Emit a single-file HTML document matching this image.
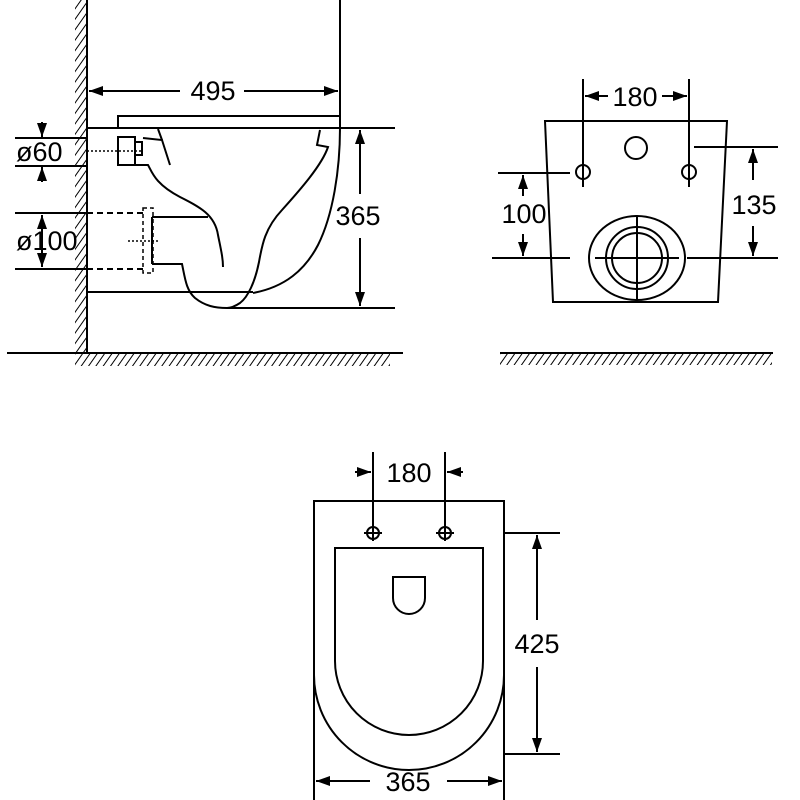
<!DOCTYPE html>
<html><head><style>html,body{margin:0;padding:0;background:#fff}svg{display:block}</style></head><body>
<svg width="800" height="800" viewBox="0 0 800 800" xmlns="http://www.w3.org/2000/svg" font-family="Liberation Sans, sans-serif">
<defs>
<pattern id="hv" width="6" height="6" patternUnits="userSpaceOnUse" patternTransform="rotate(35)"><line x1="0" y1="0" x2="0" y2="6" stroke="#000" stroke-width="2"/></pattern>
<marker id="a" viewBox="0 0 14 10" refX="14" refY="5" markerWidth="14" markerHeight="10" markerUnits="userSpaceOnUse" orient="auto-start-reverse"><path d="M0,0 L14,5 L0,10 Z" fill="#000"/></marker>
</defs>
<g stroke="#000" stroke-width="2" fill="none">
<rect x="75" y="0" width="12" height="353" fill="url(#hv)" stroke="none"/>
<line x1="87" y1="0" x2="87" y2="353"/>
<line x1="7" y1="353" x2="403" y2="353"/>
<rect x="75" y="354" width="315" height="12" fill="url(#hv)" stroke="none"/>
<line x1="340" y1="0" x2="340" y2="128"/>
<line x1="89" y1="91" x2="180" y2="91" marker-start="url(#a)"/>
<line x1="244" y1="91" x2="338" y2="91" marker-end="url(#a)"/>
<path d="M118,128 V116 H340 V128"/>
<line x1="87" y1="128" x2="395" y2="128"/>
<rect x="118" y="137" width="17" height="28"/>
<rect x="135" y="142" width="7" height="13"/>
<line x1="87" y1="151" x2="142" y2="151" stroke-dasharray="2,2" stroke-width="1.5"/>
<path d="M143,138 L162,140 L170,165"/>
<line x1="158" y1="129" x2="162" y2="140"/>
<path d="M135,165 L148,165 C152,172 155,184 180,197 C200,207 215,215 218,235 C221,250 223,258 223,267"/>
<line x1="152" y1="217" x2="208" y2="217"/>
<line x1="152" y1="217" x2="152" y2="264"/>
<path d="M152,264 L182,264 C185,278 186,290 195,298 C205,306 215,308 227,308 L395,308"/>
<rect x="143" y="208" width="10" height="65" stroke-dasharray="4,3" stroke-width="1.5"/>
<line x1="87" y1="213" x2="143" y2="213" stroke-dasharray="6,4"/>
<line x1="87" y1="269" x2="143" y2="269" stroke-dasharray="6,4"/>
<line x1="128" y1="241" x2="160" y2="241" stroke-dasharray="2,2" stroke-width="1.5"/>
<path d="M320,130 L317,145 L328,147 C322,165 300,190 282,210 C265,228 262,245 259,262 C255,282 248,297 240,303 C234,307 230,308 227,308"/>
<path d="M340,128 C340,170 333,215 318,245 C305,270 285,287 253,293"/>
<line x1="87" y1="292" x2="253" y2="292"/>
<line x1="360" y1="130" x2="360" y2="194" marker-start="url(#a)"/>
<line x1="360" y1="238" x2="360" y2="306" marker-end="url(#a)"/>
<line x1="15" y1="138" x2="87" y2="138"/>
<line x1="15" y1="166" x2="87" y2="166"/>
<line x1="42" y1="122" x2="42" y2="137" marker-end="url(#a)"/>
<line x1="42" y1="182" x2="42" y2="167" marker-end="url(#a)"/>
<line x1="15" y1="213" x2="87" y2="213"/>
<line x1="15" y1="269" x2="87" y2="269"/>
<line x1="42" y1="241" x2="42" y2="215" marker-end="url(#a)"/>
<line x1="42" y1="241" x2="42" y2="267" marker-end="url(#a)"/>

<path d="M545,121 H727 L718,302 H553 Z"/>
<line x1="583" y1="79" x2="583" y2="187"/>
<line x1="689" y1="79" x2="689" y2="187"/>
<line x1="585" y1="96" x2="608" y2="96" marker-start="url(#a)"/>
<line x1="662" y1="96" x2="687" y2="96" marker-end="url(#a)"/>
<circle cx="583" cy="172" r="7"/>
<circle cx="689" cy="172" r="7"/>
<circle cx="636" cy="148" r="11"/>
<ellipse cx="637" cy="258" rx="48" ry="42"/>
<circle cx="637" cy="258" r="31"/>
<circle cx="637" cy="258" r="25"/>
<line x1="637" y1="216" x2="637" y2="300"/>
<line x1="595" y1="258" x2="679" y2="258"/>
<line x1="498" y1="173" x2="570" y2="173"/>
<line x1="492" y1="258" x2="570" y2="258"/>
<line x1="687" y1="258" x2="778" y2="258"/>
<line x1="694" y1="147" x2="778" y2="147"/>
<line x1="523" y1="196" x2="523" y2="175" marker-end="url(#a)"/>
<line x1="523" y1="234" x2="523" y2="256" marker-end="url(#a)"/>
<line x1="753" y1="180" x2="753" y2="149" marker-end="url(#a)"/>
<line x1="753" y1="226" x2="753" y2="256" marker-end="url(#a)"/>
<line x1="500" y1="353" x2="773" y2="353"/>
<rect x="500" y="354" width="272" height="11" fill="url(#hv)" stroke="none"/>

<path d="M314,800 V501 H504 V800"/>
<line x1="373" y1="452" x2="373" y2="541"/>
<line x1="445" y1="452" x2="445" y2="541"/>
<line x1="355" y1="472" x2="371" y2="472" marker-end="url(#a)"/>
<line x1="463" y1="472" x2="447" y2="472" marker-end="url(#a)"/>
<circle cx="373" cy="533" r="6"/><line x1="364" y1="533" x2="382" y2="533"/>
<circle cx="445" cy="533" r="6"/><line x1="436" y1="533" x2="454" y2="533"/>
<path d="M335,661 V548 H483 V661 A74,74 0 0 1 335,661"/>
<path d="M314,675 A95,95 0 0 0 504,675"/>
<path d="M393,577 H425 V598 A16,16 0 0 1 393,598 Z"/>
<line x1="505" y1="533" x2="560" y2="533"/>
<line x1="505" y1="754" x2="560" y2="754"/>
<line x1="537" y1="535" x2="537" y2="620" marker-start="url(#a)"/>
<line x1="537" y1="667" x2="537" y2="752" marker-end="url(#a)"/>
<line x1="316" y1="781" x2="370" y2="781" marker-start="url(#a)"/>
<line x1="447" y1="781" x2="502" y2="781" marker-end="url(#a)"/>
</g>
<g font-size="27" fill="#000">
<text x="213" y="100" text-anchor="middle">495</text>
<text x="358" y="225" text-anchor="middle">365</text>
<text x="16" y="161">ø60</text>
<text x="16" y="250">ø100</text>
<text x="635" y="106" text-anchor="middle">180</text>
<text x="524" y="223" text-anchor="middle">100</text>
<text x="754" y="214" text-anchor="middle">135</text>
<text x="409" y="482" text-anchor="middle">180</text>
<text x="537" y="653" text-anchor="middle">425</text>
<text x="408" y="791" text-anchor="middle">365</text>
</g>
</svg>
</body></html>
